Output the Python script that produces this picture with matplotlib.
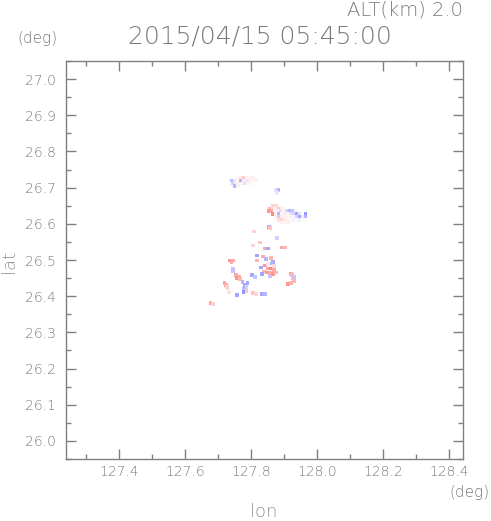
import numpy as np
import matplotlib
matplotlib.use("Agg")
from matplotlib import pyplot as plt
from matplotlib.colors import LinearSegmentedColormap

# radar echoes (lon, lat, doppler velocity, normalised -1..1)
north_cloud = [
    (127.760, 26.728, 0.1), (127.769, 26.728, 0.15), (127.778, 26.728, 0.35),
    (127.787, 26.728, 0.1), (127.796, 26.728, 0.05), (127.805, 26.728, 0.1),
    (127.742, 26.720, -0.45), (127.751, 26.720, -0.2), (127.760, 26.720, 0.05),
    (127.769, 26.720, -0.5), (127.778, 26.720, 0.1), (127.787, 26.720, -0.15),
    (127.796, 26.720, 0.1), (127.805, 26.720, 0.05), (127.814, 26.720, 0.1),
    (127.745, 26.712, -0.3), (127.754, 26.712, -0.1), (127.763, 26.712, 0.1),
    (127.772, 26.712, 0.05), (127.781, 26.712, -0.2), (127.790, 26.712, 0.1),
    (127.799, 26.712, 0.05), (127.751, 26.704, -0.5), (127.760, 26.704, 0.1),
    (127.873, 26.693, -0.2), (127.882, 26.693, -0.5), (127.878, 26.685, -0.15),
]

middle_cloud = [
    (127.866, 26.651, 0.3), (127.875, 26.651, 0.25),
    (127.857, 26.643, 0.5), (127.866, 26.643, 0.2), (127.875, 26.643, 0.1),
    (127.884, 26.643, 0.4), (127.893, 26.643, 0.1),
    (127.854, 26.635, 0.7), (127.863, 26.635, 0.6), (127.872, 26.635, 0.05),
    (127.881, 26.635, 0.1), (127.890, 26.635, -0.2), (127.899, 26.635, 0.05),
    (127.908, 26.635, -0.3), (127.917, 26.635, -0.5), (127.926, 26.635, -0.4),
    (127.935, 26.635, -0.1),
    (127.866, 26.627, 0.8), (127.875, 26.627, 0.05), (127.884, 26.627, -0.5),
    (127.893, 26.627, 0.05), (127.902, 26.627, -0.1), (127.911, 26.627, 0.05),
    (127.920, 26.627, -0.2), (127.929, 26.627, -0.3), (127.938, 26.627, -0.6),
    (127.947, 26.627, -0.2), (127.965, 26.627, -0.7), (127.965, 26.621, -0.5),
    (127.875, 26.619, 0.1), (127.884, 26.619, -0.3), (127.893, 26.619, 0.15),
    (127.902, 26.619, 0.1), (127.911, 26.619, 0.05), (127.920, 26.619, -0.1),
    (127.929, 26.619, 0.05), (127.938, 26.619, -0.3), (127.947, 26.619, -0.6),
    (127.956, 26.619, -0.1),
    (127.884, 26.611, 0.2), (127.893, 26.611, 0.3), (127.902, 26.611, 0.15),
    (127.911, 26.611, 0.1), (127.920, 26.611, 0.05), (127.929, 26.611, -0.1),
    (127.938, 26.611, 0.05), (127.947, 26.611, -0.1),
    (127.893, 26.603, 0.1), (127.902, 26.603, 0.05), (127.911, 26.603, 0.1),
    (127.854, 26.591, -0.6), (127.857, 26.588, 0.4),
]

core_echoes = [
    (127.809, 26.578, 0.3), (127.878, 26.561, -0.3), (127.827, 26.548, 0.4),
    (127.806, 26.540, 0.3), (127.893, 26.534, 0.6), (127.902, 26.534, 0.5),
    (127.842, 26.531, 0.6), (127.851, 26.531, -0.6), (127.818, 26.512, -0.6),
    (127.836, 26.510, 0.6), (127.845, 26.503, -0.5), (127.860, 26.505, 0.5),
    (127.866, 26.494, -0.6), (127.818, 26.499, 0.5),
    (127.736, 26.499, 0.7), (127.745, 26.499, 0.6), (127.740, 26.493, 0.6),
    (127.745, 26.477, -0.4), (127.745, 26.469, -0.4),
    (127.842, 26.485, 0.7), (127.851, 26.477, 0.6), (127.860, 26.477, 0.8),
    (127.869, 26.472, 0.6), (127.839, 26.469, 0.5), (127.848, 26.466, 0.7),
    (127.857, 26.464, 0.6), (127.866, 26.461, 0.7), (127.875, 26.466, 0.5),
    (127.830, 26.480, -0.6), (127.863, 26.490, -0.5), (127.833, 26.461, -0.6),
    (127.857, 26.455, -0.4), (127.851, 26.488, 0.2), (127.869, 26.483, 0.25),
    (127.803, 26.458, -0.6), (127.812, 26.453, -0.4),
]

south_echoes = [
    (127.754, 26.458, 0.6), (127.763, 26.453, 0.6), (127.757, 26.450, 0.7),
    (127.766, 26.447, 0.5), (127.720, 26.436, 0.6),
    (127.724, 26.431, 0.6), (127.730, 26.420, 0.15), (127.733, 26.410, 0.2),
    (127.727, 26.425, 0.3), (127.757, 26.403, -0.6),
    (127.773, 26.439, -0.5), (127.779, 26.431, -0.6), (127.785, 26.425, -0.3),
    (127.776, 26.420, -0.5), (127.788, 26.436, -0.6), (127.785, 26.414, 0.4),
    (127.776, 26.412, -0.7), (127.806, 26.409, 0.4), (127.815, 26.406, 0.3),
    (127.833, 26.406, -0.6), (127.842, 26.406, -0.5),
    (127.921, 26.461, 0.6), (127.927, 26.450, 0.4), (127.930, 26.442, 0.5),
    (127.912, 26.434, 0.7), (127.921, 26.436, 0.5),
    (127.924, 26.458, 0.5), (127.930, 26.453, -0.4),
    (127.676, 26.381, 0.6), (127.685, 26.378, 0.3),
]

lon_ticks = [127.4, 127.6, 127.8, 128.0, 128.2, 128.4]
lat_ticks = [26.0, 26.1, 26.2, 26.3, 26.4, 26.5, 26.6, 26.7, 26.8, 26.9, 27.0]

echoes = np.array(north_cloud + middle_cloud + core_echoes + south_echoes)

W, H = 491, 521
fig = plt.figure(figsize=(W / 100, H / 100), dpi=100)
ax = fig.add_axes([66 / W, 1 - 459 / H, (463.3 - 66) / W, (459 - 61) / H])

cmap = LinearSegmentedColormap.from_list("vel", ["#6a6aff", "#ffffff", "#ff6a6a"])
ax.scatter(echoes[:, 0], echoes[:, 1], c=echoes[:, 2], cmap=cmap, vmin=-1, vmax=1,
           marker="s", s=6, linewidths=0)

ax.set_xlim(127.2395, 128.442)
ax.set_ylim(25.956, 27.041)

grey = "#808080"
txt = "#7a7a7a"
ax.set_xticks(lon_ticks)
ax.set_xticklabels(["%.1f" % v for v in lon_ticks], fontweight="light")
ax.set_yticks(lat_ticks)
ax.set_yticklabels(["%.1f" % v for v in lat_ticks], fontweight="light")
ax.set_xticks(np.arange(127.3, 128.45, 0.1), minor=True)
ax.set_yticks(np.arange(25.95, 27.05, 0.05), minor=True)
ax.tick_params(which="both", direction="in", top=True, right=True, color=grey,
               labelcolor=txt, labelsize=10, width=1)
ax.tick_params(which="major", length=7)
ax.tick_params(which="minor", length=3.5)
ax.tick_params(axis="x", pad=4)
ax.tick_params(axis="y", pad=7)
for s in ax.spines.values():
    s.set_color(grey)
    s.set_linewidth(1)

fig.text(463 / W, 1 - 10 / H, "ALT(km) 2.0", ha="right", va="center", fontsize=14,
         color=txt, fontweight="light")
fig.text(260 / W, 1 - 37 / H, "2015/04/15 05:45:00", ha="center", va="center", fontsize=18,
         color=txt, fontweight="light")
fig.text(37 / W, 1 - 39 / H, "(deg)", ha="center", va="center", fontsize=11, color=txt,
         fontweight="light")
fig.text(469 / W, 1 - 492 / H, "(deg)", ha="center", va="center", fontsize=11, color=txt,
         fontweight="light")
fig.text(264 / W, 1 - 512 / H, "lon", ha="center", va="center", fontsize=13, color="#959595",
         fontweight="light")
fig.text(9 / W, 1 - 261 / H, "lat", ha="center", va="center", fontsize=13, color="#959595",
         rotation=90, fontweight="light")

fig.savefig("out.png", dpi=100)
